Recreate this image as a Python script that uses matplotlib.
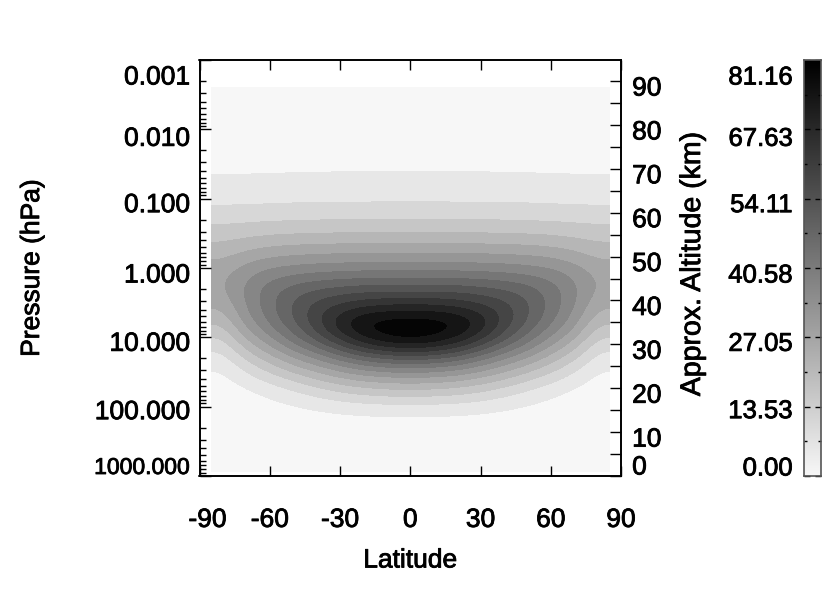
import numpy as np
import matplotlib
matplotlib.use("Agg")
import matplotlib.pyplot as plt
import matplotlib.patheffects as pe
from matplotlib.colors import ListedColormap, LinearSegmentedColormap, Normalize
from matplotlib.transforms import ScaledTranslation

# ---------------- data ----------------
LAT = [-80, -70, -60, -50, -40, -30, -20, -10, 0, 10, 20, 30, 40, 50, 60, 70, 80]
ALT_KM = [2.9, 6.9, 10.9, 14.9, 18.9, 22.9, 26.9, 30.8, 34.8, 38.8, 42.8,
          46.8, 50.7, 54.7, 58.7, 62.7, 66.7, 70.7, 74.6, 78.6, 82.6, 86.6]
# rows: bottom (low altitude) -> top, columns: LAT
FIELD = [
    [0.8, 0.9, 0.9, 1.0, 1.0, 1.0, 1.0, 1.0, 1.0, 1.0, 1.0, 1.0, 1.0, 1.0, 0.9, 0.9, 0.8],
    [1.0, 1.1, 1.2, 1.3, 1.4, 1.4, 1.5, 1.5, 1.5, 1.5, 1.5, 1.4, 1.4, 1.3, 1.2, 1.1, 1.0],
    [1.3, 1.5, 1.7, 1.9, 2.1, 2.3, 2.4, 2.5, 2.5, 2.5, 2.4, 2.3, 2.1, 1.9, 1.7, 1.5, 1.3],
    [1.8, 2.2, 2.8, 3.5, 4.4, 5.2, 5.7, 6.0, 6.0, 6.0, 5.7, 5.2, 4.4, 3.5, 2.8, 2.2, 1.8],
    [2.4, 3.5, 5.8, 8.5, 11.5, 14.2, 16.0, 17.0, 17.5, 17.0, 16.0, 14.2, 11.5, 8.5, 5.8, 3.5, 2.4],
    [3.8, 8.5, 13.5, 18.0, 22.5, 26.5, 29.5, 31.0, 31.5, 31.0, 29.5, 26.5, 22.5, 18.0, 13.5, 8.5, 3.8],
    [7.5, 16.0, 23.0, 30.0, 36.0, 42.5, 48.5, 51.5, 52.5, 51.5, 48.5, 42.5, 36.0, 30.0, 23.0, 16.0, 7.5],
    [13.5, 25.0, 33.5, 42.5, 51.5, 61.5, 70.0, 75.5, 77.5, 75.5, 70.0, 61.5, 51.5, 42.5, 33.5, 25.0, 13.5],
    [20.5, 32.5, 41.5, 50.5, 60.0, 71.0, 78.3, 80.5, 81.1, 80.5, 78.3, 71.0, 60.0, 50.5, 41.5, 32.5, 20.5],
    [26.0, 36.0, 44.5, 52.0, 58.5, 62.5, 65.5, 67.0, 67.5, 67.0, 65.5, 62.5, 58.5, 52.0, 44.5, 36.0, 26.0],
    [29.5, 37.0, 43.5, 48.0, 50.5, 52.0, 53.0, 53.0, 53.0, 53.0, 53.0, 52.0, 50.5, 48.0, 43.5, 37.0, 29.5],
    [28.5, 33.5, 37.0, 38.5, 39.5, 40.0, 40.5, 40.5, 40.5, 40.5, 40.5, 40.0, 39.5, 38.5, 37.0, 33.5, 28.5],
    [23.5, 26.5, 28.5, 29.5, 30.0, 30.3, 30.5, 30.6, 30.6, 30.6, 30.5, 30.3, 30.0, 29.5, 28.5, 26.5, 23.5],
    [18.5, 19.5, 20.5, 21.0, 21.3, 21.5, 21.6, 21.7, 21.7, 21.7, 21.6, 21.5, 21.3, 21.0, 20.5, 19.5, 18.5],
    [13.5, 13.8, 14.1, 14.3, 14.5, 14.6, 14.6, 14.7, 14.7, 14.7, 14.6, 14.6, 14.5, 14.3, 14.1, 13.8, 13.5],
    [9.0, 9.1, 9.3, 9.5, 9.6, 9.6, 9.7, 9.7, 9.7, 9.7, 9.7, 9.6, 9.6, 9.5, 9.3, 9.1, 9.0],
    [6.0, 6.1, 6.2, 6.3, 6.4, 6.4, 6.5, 6.5, 6.5, 6.5, 6.5, 6.4, 6.4, 6.3, 6.2, 6.1, 6.0],
    [4.1, 4.2, 4.2, 4.3, 4.3, 4.4, 4.4, 4.4, 4.4, 4.4, 4.4, 4.4, 4.3, 4.3, 4.2, 4.2, 4.1],
    [3.0, 3.0, 3.1, 3.1, 3.1, 3.2, 3.2, 3.2, 3.2, 3.2, 3.2, 3.2, 3.1, 3.1, 3.1, 3.0, 3.0],
    [2.3, 2.3, 2.3, 2.3, 2.4, 2.4, 2.4, 2.4, 2.4, 2.4, 2.4, 2.4, 2.4, 2.3, 2.3, 2.3, 2.3],
    [1.8, 1.8, 1.8, 1.8, 1.9, 1.9, 1.9, 1.9, 1.9, 1.9, 1.9, 1.9, 1.9, 1.8, 1.8, 1.8, 1.8],
    [1.4, 1.4, 1.4, 1.5, 1.5, 1.5, 1.5, 1.5, 1.5, 1.5, 1.5, 1.5, 1.5, 1.5, 1.4, 1.4, 1.4],
]
VMAX = 81.16
N_LEVELS = 16

LAT_TICKS = [-90, -60, -30, 0, 30, 60, 90]
P_TICKS = [1000.0, 100.0, 10.0, 1.0, 0.1, 0.01, 0.001]
P_LABELS = ["1000.000", "100.000", "10.000", "1.000", "0.100", "0.010", "0.001"]
ALT_TICKS = [0, 10, 20, 30, 40, 50, 60, 70, 80, 90]
CB_TICKS = [0.00, 13.53, 27.05, 40.58, 54.11, 67.63, 81.16]

# ---------------- figure ----------------
plt.rcParams['font.family'] = ['Liberation Sans', 'DejaVu Sans']
FS = 19
BOLDEN = [pe.withStroke(linewidth=0.6, foreground='black')]
W, H = 830, 594
fig = plt.figure(figsize=(W / 100, H / 100), dpi=100)
fig.patch.set_facecolor('white')

AX_L, AX_R, AX_T, AX_B = 199.5, 621.0, 60.0, 476.0
ax = fig.add_axes([AX_L / W, (H - AX_B) / H, (AX_R - AX_L) / W, (AX_B - AX_T) / H])

Z_TOP = 94.8                       # altitude at 0.001 hPa
SCALE_H = Z_TOP / np.log(1e6)      # scale height for the pressure axis


def p2z(p):
    return SCALE_H * np.log(1000.0 / np.asarray(p, dtype=float))


field = np.array(FIELD)
lat = np.array(LAT, dtype=float)
alt = np.array(ALT_KM, dtype=float)
dlat = lat[1] - lat[0]
dalt = (alt[-1] - alt[0]) / (len(alt) - 1)
extent = [lat[0] - dlat / 2, lat[-1] + dlat / 2, alt[0] - dalt / 2, alt[-1] + dalt / 2]

grays = np.linspace(0.97, 0.02, N_LEVELS)
band_cmap = ListedColormap([(g, g, g) for g in grays])
ax.imshow(field, origin='lower', extent=extent, aspect='auto', cmap=band_cmap,
          norm=Normalize(0, VMAX), interpolation='bicubic', interpolation_stage='data')

ax.set_xlim(-90, 90)
ax.set_ylim(0, Z_TOP)

# x axis
ax.set_xticks(LAT_TICKS)
ax.set_xticklabels([str(t) for t in LAT_TICKS], fontsize=FS)
ax.tick_params(axis='x', which='major', direction='in', top=True, bottom=True,
               length=7, width=1.0, pad=23)
ax.set_xlabel('Latitude', fontsize=FS)
ax.xaxis.set_label_coords(0.5, -0.203)
ax.xaxis.label.set(va='center')

# left pressure axis
ax.set_yticks(p2z(P_TICKS))
ax.set_yticklabels(P_LABELS, fontsize=FS)
minor_p = []
for n in range(-3, 3):
    for k in range(2, 10):
        minor_p.append(k * 10.0 ** n)
ax.set_yticks(p2z(minor_p), minor=True)
ax.tick_params(axis='y', which='major', direction='in', left=True, right=False,
               length=8, width=1.0, pad=7)
ax.tick_params(axis='y', which='minor', direction='in', left=True, right=False,
               length=4, width=1.0)
ax.get_yticklabels()[0].set_fontsize(16.5)
ax.set_ylabel('Pressure (hPa)', fontsize=FS)
ax.yaxis.label.set(ha='center', va='center', rotation_mode='default')
ax.yaxis.set_label_coords((32 - AX_L) / (AX_R - AX_L), 0.5)


def shift_labels(labels, offsets_px):
    for lab, dy in zip(labels, offsets_px):
        lab.set_transform(lab.get_transform() +
                          ScaledTranslation(0, -dy / 100.0, fig.dpi_scale_trans))


# offsets in px (positive = down), bottom -> top
shift_labels(ax.get_yticklabels(), [-11, 3, 4, 5, 4, 7, 15])
xl = ax.get_xticklabels()
xl[0].set_transform(xl[0].get_transform() + ScaledTranslation(8 / 100.0, 0, fig.dpi_scale_trans))

# right altitude axis
ax2 = ax.twinx()
ax2.set_ylim(0, Z_TOP)
ax2.set_yticks(ALT_TICKS)
ax2.set_yticklabels([str(t) for t in ALT_TICKS], fontsize=FS)
ax2.set_yticks([5, 15, 25, 35, 45, 55, 65, 75, 85], minor=True)
ax2.tick_params(axis='y', which='both', direction='in', right=True, left=False,
                length=8, width=1.0, pad=8)
shift_labels(ax2.get_yticklabels(), [-11, 5, 5, 5, 5, 5, 5, 5, 5, 5])
ax2.set_ylabel('Approx. Altitude (km)', fontsize=20.5, rotation=90)
ax2.yaxis.label.set(ha='center', va='center', rotation_mode='default')
ax2.yaxis.set_label_coords((693 - AX_L) / (AX_R - AX_L), (AX_B - 264) / (AX_B - AX_T))

for a in (ax, ax2):
    for s in a.spines.values():
        s.set_linewidth(1.2)
        s.set_color('black')

# ---------------- colour bar ----------------
CB_L, CB_R = 804.0, 821.0
cax = fig.add_axes([CB_L / W, (H - AX_B) / H, (CB_R - CB_L) / W, (AX_B - AX_T) / H])
cb_cmap = LinearSegmentedColormap.from_list('cb', [(0.97, 0.97, 0.97), (0, 0, 0)])
cax.imshow(np.linspace(0, VMAX, 256).reshape(-1, 1), origin='lower',
           extent=[0, 1, 0, VMAX], aspect='auto', cmap=cb_cmap,
           norm=Normalize(0, VMAX), interpolation='bilinear')
cax.set_xlim(0, 1)
cax.set_ylim(0, VMAX)
cax.set_xticks([])
cax.set_yticks(CB_TICKS)
cax.set_yticklabels(['%.2f' % t for t in CB_TICKS], fontsize=18.5)
mids = [(CB_TICKS[i] + CB_TICKS[i + 1]) / 2 for i in range(len(CB_TICKS) - 1)]
cax.set_yticks(mids, minor=True)
cax.tick_params(axis='y', which='major', direction='in', left=True, right=True,
                length=4, width=1.0, pad=8)
cax.tick_params(axis='y', which='minor', direction='in', left=True, right=True,
                length=2, width=1.0)
shift_labels(cax.get_yticklabels(), [-10, 2, 4, 5, 4, 7, 15])
for s in cax.spines.values():
    s.set_linewidth(1.2)
    s.set_color('#555555')

# heavier text like the reference
texts = (ax.get_xticklabels() + ax.get_yticklabels() + ax2.get_yticklabels() +
         cax.get_yticklabels() + [ax.xaxis.label, ax.yaxis.label, ax2.yaxis.label])
for t in texts:
    t.set_path_effects(BOLDEN)

fig.savefig('out.png', dpi=100, facecolor='white')
